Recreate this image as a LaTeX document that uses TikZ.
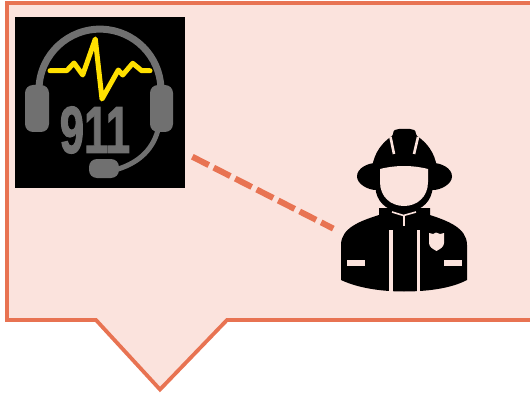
\documentclass[tikz,border=0pt]{standalone}
\usepackage{fontspec}
\newfontfamily\digitfont[FakeBold=2.2]{Liberation Sans}
\definecolor{calloutline}{RGB}{232,115,82}
\definecolor{calloutfill}{RGB}{251,227,221}
\definecolor{headsetgrey}{RGB}{112,112,112}
\definecolor{pulseyellow}{RGB}{255,224,0}
\tikzset{
  callout/.style={draw=calloutline,fill=calloutfill,line width=3.8pt,line join=miter},
  linkdash/.style={draw=calloutline,line width=6pt,dash pattern=on 18.5pt off 5.6pt},
  greyband/.style={draw=headsetgrey,line width=7pt},
  greypad/.style={fill=headsetgrey,rounded corners=8pt},
  slit/.style={draw=calloutfill,line width=3.6pt},
}
\begin{document}
\begin{tikzpicture}[x=1pt,y=1pt,yscale=-1,xscale=1]
\useasboundingbox (0,0) rectangle (530,393);

%Shape: Callout
\draw [callout] (540,3) -- (7,3) -- (7,320) -- (96,320) -- (160,389.5) -- (227,320) -- (540,320) ;

%Shape: Icon square
\fill [black] (15,17) rectangle (185,188) ;
%Headset band
\draw [greyband] (39,88) arc [start angle=182, end angle=358, radius=61] ;
%Ear pads
\fill [greypad] (25,85) rectangle (49,132) ;
\fill [greypad] (150,85) rectangle (173,132) ;
%Mic boom
\draw [headsetgrey,line width=5pt] (158,130) .. controls (152,152) and (136,164) .. (115,170) ;
\fill [greypad] (89,159) rectangle (119,178) ;
%Pulse
\draw [pulseyellow,line width=5pt,line join=round,line cap=round] (50,70.7) -- (66.7,70.7) -- (74,63) -- (82.7,75) -- (95.3,39) -- (102,99) -- (118.3,70) -- (122.7,75) -- (132.7,63.3) -- (141.7,70.7) -- (150,70.7) ;
% Text Node
\node (digits) at (95,130) [inner sep=0pt,xscale=0.66,font=\digitfont\bfseries\fontsize{66}{66}\selectfont,text=headsetgrey] {911};

%Dashed link
\coordinate (iconside) at (192.3,156.7);
\coordinate (firefighterside) at (333.3,228.6);
\draw [linkdash] (iconside) -- (firefighterside) ;

%Shape: Firefighter body
\fill [black] (379,208) -- (379,215) .. controls (360,221) and (341,228) .. (341,245) -- (341,280) .. controls (360,289) and (385,291.5) .. (404,291.5) .. controls (425,291.5) and (450,289) .. (467,280) -- (467,245) .. controls (467,228) and (448,221) .. (430,215) -- (430,208) -- cycle ;
%Head outline
\fill [black] (375,180) -- (434,180) -- (432,192) .. controls (429,205) and (418,212) .. (404,212) .. controls (390,212) and (379,205) .. (376,192) -- cycle ;
%Brim
\fill [black] (357,176.5) .. controls (357,168) and (368,163) .. (376,163) -- (433,163) .. controls (441,163) and (452,168) .. (452,176.5) .. controls (452,184) and (441,190) .. (433,190) -- (376,190) .. controls (368,190) and (357,184) .. (357,176.5) -- cycle ;
%Helmet dome
\fill [black] (372,168) .. controls (374,152) and (383,142) .. (392,136) -- (393,134) .. controls (393,130) and (396,129) .. (399,129) -- (410,129) .. controls (413,129) and (416,130) .. (416,134) -- (417,136) .. controls (426,142) and (435,152) .. (437,168) -- cycle ;
%Face
\fill [calloutfill] (380,169) .. controls (396,165) and (412,165) .. (428,169) -- (428,182) .. controls (428,197) and (417,206) .. (404,206) .. controls (391,206) and (380,197) .. (380,182) -- cycle ;
%Helmet slits
\draw [slit,line width=2.6pt] (390.5,137) -- (394,154) ;
\draw [slit,line width=2.6pt] (418,137) -- (414,154) ;
%Collar
\draw [slit,line width=1.6pt] (392,212) -- (403.5,215.5) -- (416,212) ;
\draw [slit,line width=2.4pt] (404,215.5) -- (404,226) ;
%Coat stripes
\draw [slit] (390.7,230) -- (390.7,291.5) ;
\draw [slit] (418.3,230) -- (418.3,291.5) ;
\fill [calloutfill] (347,259.5) rectangle (365,265.5) ;
\fill [calloutfill] (444,259.5) rectangle (462,265.5) ;
%Badge
\fill [calloutfill] (429,233) -- (433,234) -- (436,232.5) -- (440,234) -- (444,233) -- (444,243) .. controls (444,247) and (440,249) .. (436.5,251) .. controls (433,249) and (429,247) .. (429,243) -- cycle ;
\end{tikzpicture}
\end{document}
